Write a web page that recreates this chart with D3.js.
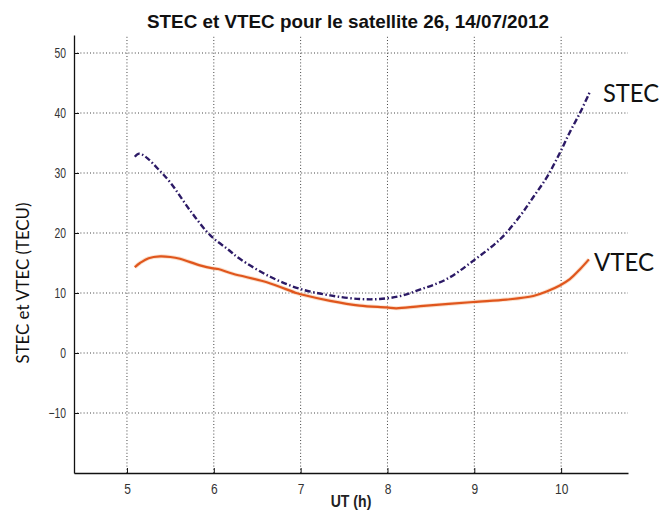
<!DOCTYPE html>
<html><head><meta charset="utf-8">
<script src="https://cdn.jsdelivr.net/npm/d3@7"></script>
<style>
body{margin:0;background:#fff;}
svg{display:block;}
</style></head>
<body>
<svg id="chart" width="663" height="511"></svg>
<script>
const title = "STEC et VTEC pour le satellite 26, 14/07/2012";
const xLabel = "UT (h)";
const yLabel = "STEC et VTEC (TECU)";
const xTicks = [5, 6, 7, 8, 9, 10];
const yTicks = [-10, 0, 10, 20, 30, 40, 50];
const xDomain = [4.39, 10.77];
const yDomain = [-20, 53];

const stecHours = [5.09,5.13,5.17,5.24,5.35,5.5,5.73,5.96,6.16,6.3,6.65,6.99,7.34,7.68,7.91,8.15,8.38,8.68,8.99,9.3,9.53,9.68,9.84,9.99,10.1,10.22,10.33];
const stecValues = [32.7,33.2,33.1,32.4,30.8,28.4,23.7,19.6,17.3,15.7,12.7,10.7,9.6,9.0,9.0,9.5,10.6,12.3,15.4,19.0,22.9,26.0,29.4,33.5,36.8,40.1,43.5];
const vtecHours = [5.09,5.15,5.25,5.38,5.5,5.61,5.84,5.99,6.05,6.22,6.61,6.95,7.0,7.34,7.68,7.99,8.1,8.38,8.99,9.37,9.68,9.84,9.99,10.1,10.22,10.32];
const vtecValues = [14.3,15.0,15.8,16.1,16.0,15.7,14.6,14.1,14.0,13.2,11.8,10.0,9.8,8.7,7.9,7.6,7.45,7.8,8.5,8.9,9.5,10.3,11.3,12.3,14.0,15.6];

const svg = d3.select("#chart");
const L = 74, R = 628, T = 35, B = 473;
const x = d3.scaleLinear().domain(xDomain).range([L, R]);
const y = d3.scaleLinear().domain(yDomain).range([B, T]);

// grid
const grid = svg.append("g");
grid.selectAll(".vg").data(xTicks).join("line")
  .attr("x1", d => x(d)).attr("x2", d => x(d)).attr("y1", B).attr("y2", T)
  .attr("stroke", "#444").attr("stroke-width", 1).attr("stroke-dasharray", "1,2.2");
grid.selectAll(".hg").data(yTicks).join("line")
  .attr("y1", d => y(d)).attr("y2", d => y(d)).attr("x1", L).attr("x2", R)
  .attr("stroke", "#444").attr("stroke-width", 1).attr("stroke-dasharray", "1,2.2");

// axes
const gx = svg.append("g").attr("transform", `translate(0,${B})`)
  .call(d3.axisBottom(x).tickValues(xTicks).tickSize(-5).tickSizeOuter(0).tickPadding(10).tickFormat(d3.format("d")));
const gy = svg.append("g").attr("transform", `translate(${L},0)`)
  .call(d3.axisLeft(y).tickValues(yTicks).tickSize(-5).tickSizeOuter(0).tickPadding(8).tickFormat(d3.format("d")));
[gx, gy].forEach(g => {
  g.select(".domain").attr("stroke", "#111").attr("stroke-width", 1.3);
  g.selectAll(".tick line").attr("stroke", "#111").attr("stroke-width", 1);
  g.selectAll(".tick text").attr("font-family", "Liberation Sans, Arial, sans-serif").attr("fill", "#333");
});
const SXx = 0.8, SXy = 0.74;
gx.selectAll(".tick text").attr("font-size", 15).attr("transform", `scale(${SXx},1)`);
gy.selectAll(".tick text").attr("font-size", 14).attr("x", -8 / SXy).attr("transform", `scale(${SXy},1)`);

// lines
const line = d3.line().x(d => x(d[0])).y(d => y(d[1])).curve(d3.curveCatmullRom);
const stec = stecHours.map((h, i) => [h, stecValues[i]]);
const vtec = vtecHours.map((h, i) => [h, vtecValues[i]]);
svg.append("path").datum(vtec).attr("d", line).attr("fill", "none")
  .attr("stroke", "#f6c9a8").attr("stroke-width", 4).attr("stroke-opacity", 0.6);
svg.append("path").datum(vtec).attr("d", line).attr("fill", "none")
  .attr("stroke", "#e0561d").attr("stroke-width", 2.2);
svg.append("path").datum(stec).attr("d", line).attr("fill", "none")
  .attr("stroke", "#2c1a66").attr("stroke-width", 2.4)
  .attr("stroke-dasharray", "6,2.5,1.5,2.5");

// title
svg.append("text").attr("x", 348).attr("y", 28).attr("text-anchor", "middle")
  .attr("font-family", "Liberation Sans, Arial, sans-serif").attr("font-weight", "bold")
  .attr("font-size", 19).attr("textLength", 402).attr("lengthAdjust", "spacingAndGlyphs")
  .attr("fill", "#111").text(title);

// x label
svg.append("text").attr("transform", `translate(${(L + R) / 2},507) scale(0.88,1)`)
  .attr("text-anchor", "middle")
  .attr("font-family", "Liberation Sans, Arial, sans-serif").attr("font-weight", "bold")
  .attr("font-size", 16).attr("fill", "#222").text(xLabel);

// y label
svg.append("text").attr("transform", "translate(29,283) rotate(-90)")
  .attr("text-anchor", "middle").attr("font-family", "Lato, Open Sans, sans-serif")
  .attr("font-size", 16.5).attr("textLength", 161).attr("lengthAdjust", "spacingAndGlyphs")
  .attr("fill", "#111").text(yLabel);

// series labels
svg.append("text").attr("x", 603).attr("y", 102)
  .attr("font-family", "Lato, Open Sans, sans-serif").attr("font-size", 25)
  .attr("textLength", 56).attr("lengthAdjust", "spacingAndGlyphs").attr("fill", "#111").text("STEC");
svg.append("text").attr("x", 594).attr("y", 271)
  .attr("font-family", "Lato, Open Sans, sans-serif").attr("font-size", 25)
  .attr("textLength", 60).attr("lengthAdjust", "spacingAndGlyphs").attr("fill", "#111").text("VTEC");
</script>
</body></html>
